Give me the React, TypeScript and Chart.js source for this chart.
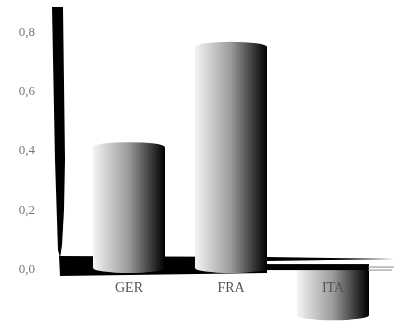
import React, { useEffect, useRef } from "react";
import { Chart, registerables } from "chart.js";

Chart.register(...registerables);

const countries = ["GER", "FRA", "ITA"];
const values = [0.41, 0.75, -0.16];
const yMin = -0.176;
const yMax = 0.885;
const tickStep = 0.2;

const capRadiusY = 5;

// Horizontal white-to-black shading that makes a bar read as a cylinder.
function cylinderFill(ctx: CanvasRenderingContext2D, left: number, right: number) {
  const g = ctx.createLinearGradient(left, 0, right, 0);
  g.addColorStop(0, "#f4f4f4");
  g.addColorStop(0.5, "#9a9a9a");
  g.addColorStop(0.88, "#242424");
  g.addColorStop(1, "#000000");
  return g;
}

// Black wall and floor of the pseudo-3D frame, laid out around the zero line.
const frame = {
  id: "frame",
  beforeDatasetsDraw(chart: any) {
    const { ctx, chartArea, scales } = chart;
    const zero = scales.y.getPixelForValue(0);
    const l = chartArea.left;
    const r = chartArea.right;
    const t = chartArea.top;
    const meta = chart.getDatasetMeta(0).data;
    const fraRight = meta[1].x + meta[1].width / 2;
    ctx.save();
    ctx.fillStyle = "#000";
    // wall, narrowing as it reaches the floor
    ctx.beginPath();
    ctx.moveTo(l - 26, t);
    ctx.lineTo(l - 15, t);
    ctx.lineTo(l - 13, t + 153);
    ctx.lineTo(l - 14, t + 203);
    ctx.lineTo(l - 16, t + 238);
    ctx.lineTo(l - 18, zero - 10);
    ctx.lineTo(l - 20, t + 243);
    ctx.lineTo(l - 21, t + 213);
    ctx.lineTo(l - 23, t + 153);
    ctx.closePath();
    ctx.fill();
    // floor under the first two columns
    ctx.beginPath();
    ctx.moveTo(l - 19, zero - 12);
    ctx.lineTo(fraRight, zero - 11);
    ctx.lineTo(fraRight, zero + 5);
    ctx.lineTo(l - 18, zero + 8);
    ctx.closePath();
    ctx.fill();
    // receding top edge of the floor
    ctx.beginPath();
    ctx.moveTo(fraRight, zero - 11);
    ctx.lineTo(r + 11, zero - 9);
    ctx.lineTo(fraRight, zero - 7);
    ctx.closePath();
    ctx.fill();
    ctx.restore();
  },
  afterDatasetsDraw(chart: any) {
    const { ctx, chartArea, scales } = chart;
    const zero = scales.y.getPixelForValue(0);
    const r = chartArea.right;
    const meta = chart.getDatasetMeta(0).data;
    ctx.save();
    meta.forEach((bar: any) => {
      const half = bar.width / 2;
      ctx.fillStyle = cylinderFill(ctx, bar.x - half, bar.x + half);
      // rounded end at the column's base or tip
      const lower = Math.max(bar.y, bar.base);
      ctx.beginPath();
      ctx.ellipse(bar.x, lower, half, capRadiusY, 0, 0, Math.PI * 2);
      ctx.fill();
      // top face of upright columns
      if (bar.y < bar.base) {
        ctx.beginPath();
        ctx.ellipse(bar.x, bar.y, half, capRadiusY, 0, 0, Math.PI * 2);
        ctx.fill();
      }
    });
    // front floor edge passing over the downward column
    const fraRight = meta[1].x + meta[1].width / 2;
    ctx.fillStyle = "#000";
    ctx.fillRect(fraRight - 1, zero - 4, r - fraRight - 14, 6);
    ctx.strokeStyle = "#888";
    ctx.lineWidth = 1;
    ctx.beginPath();
    ctx.moveTo(r - 16, zero - 1);
    ctx.lineTo(r + 10, zero - 1);
    ctx.moveTo(r - 16, zero + 2);
    ctx.lineTo(r + 8, zero + 2);
    ctx.stroke();
    ctx.restore();
  },
};

export default function App() {
  const ref = useRef<HTMLCanvasElement>(null);
  useEffect(() => {
    const chart = new Chart(ref.current!, {
      type: "bar",
      data: {
        labels: countries,
        datasets: [
          {
            data: values,
            barPercentage: 0.706,
            categoryPercentage: 1,
            backgroundColor: (c: any) => {
              const x = c.chart.scales.x;
              const i = c.dataIndex ?? 0;
              if (!x) return "#888";
              const half = (x.getPixelForTick(1) - x.getPixelForTick(0)) * 0.353;
              const mid = x.getPixelForTick(i);
              return cylinderFill(c.chart.ctx, mid - half, mid + half);
            },
          },
        ],
      },
      options: {
        responsive: false,
        animation: false,
        layout: { padding: { top: 7, right: 17, bottom: 1, left: 0 } },
        plugins: { legend: { display: false }, tooltip: { enabled: false } },
        scales: {
          x: {
            position: { y: 0 },
            afterFit: (s: any) => {
              s.height = 0;
              s.paddingLeft = 0;
              s.paddingRight = 0;
            },
            grid: { display: false, drawTicks: false },
            border: { display: false },
            ticks: {
              z: 1,
              padding: 12,
              color: "#555",
              font: { family: "Liberation Serif", size: 14 },
            },
          },
          y: {
            min: yMin,
            max: yMax,
            afterFit: (s: any) => {
              s.width = 78;
              s.paddingTop = 0;
              s.paddingBottom = 0;
            },
            afterBuildTicks: (s: any) => {
              s.ticks = [0, 1, 2, 3, 4].map((n) => ({ value: n * tickStep }));
            },
            grid: { display: false, drawTicks: false },
            border: { display: false },
            ticks: {
              padding: 43,
              labelOffset: 1,
              color: "#777",
              font: { family: "Liberation Serif", size: 13 },
              callback: (v: any) => Number(v).toFixed(1).replace(".", ","),
            },
          },
        },
      },
      plugins: [frame],
    } as any);
    return () => chart.destroy();
  }, []);
  return (
    <div style={{ position: "absolute", left: 0, top: 0, width: 401, height: 321, background: "#fff" }}>
      <canvas ref={ref} width={401} height={321} style={{ display: "block" }} />
    </div>
  );
}
